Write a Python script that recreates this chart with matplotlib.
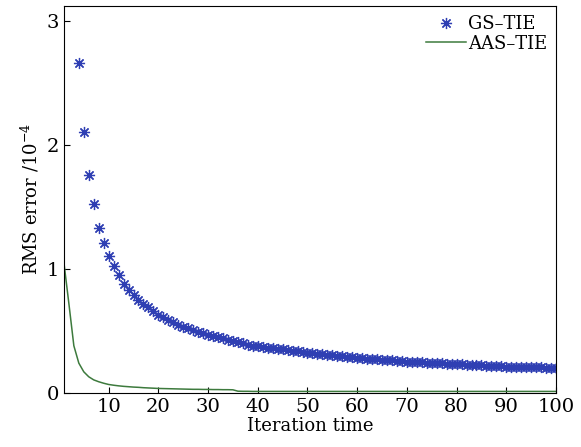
import matplotlib.pyplot as plt

# GS-TIE, iterations 4..100
gs_x = list(range(4, 101))
gs_rms = [2.66, 2.10, 1.76, 1.52, 1.33, 1.21, 1.10, 1.02, 0.95, 0.88,
          0.83, 0.79, 0.75, 0.72, 0.69, 0.66, 0.63, 0.61, 0.59, 0.57,
          0.55, 0.535, 0.52, 0.505, 0.49, 0.48, 0.47, 0.46, 0.45, 0.44,
          0.43, 0.42, 0.41, 0.40, 0.39, 0.38, 0.375, 0.37, 0.365, 0.36,
          0.355, 0.35, 0.345, 0.34, 0.335, 0.33, 0.325, 0.32, 0.316, 0.312,
          0.308, 0.304, 0.30, 0.296, 0.292, 0.288, 0.284, 0.28, 0.277, 0.274,
          0.271, 0.268, 0.265, 0.262, 0.259, 0.256, 0.253, 0.25, 0.248, 0.246,
          0.244, 0.242, 0.24, 0.238, 0.236, 0.234, 0.232, 0.23, 0.228, 0.226,
          0.224, 0.222, 0.22, 0.218, 0.216, 0.214, 0.212, 0.211, 0.21, 0.209,
          0.208, 0.207, 0.206, 0.205, 0.204, 0.203, 0.202]

# AAS-TIE, iterations 1..100
aas_x = list(range(1, 101))
aas_rms = [1.05, 0.72, 0.38, 0.24, 0.17, 0.13, 0.105, 0.09, 0.078, 0.068,
           0.062, 0.057, 0.053, 0.05, 0.047, 0.045, 0.042, 0.04, 0.038, 0.036,
           0.035, 0.034, 0.033, 0.032, 0.031, 0.03, 0.029, 0.029, 0.028, 0.028,
           0.027, 0.027, 0.026, 0.026, 0.025, 0.014, 0.013, 0.013, 0.012, 0.012,
           0.012, 0.012, 0.012, 0.012, 0.012, 0.012, 0.012, 0.012, 0.012, 0.012,
           0.012, 0.012, 0.012, 0.012, 0.012, 0.012, 0.012, 0.012, 0.012, 0.012,
           0.012, 0.012, 0.012, 0.012, 0.012, 0.012, 0.012, 0.012, 0.012, 0.012,
           0.012, 0.012, 0.012, 0.012, 0.012, 0.012, 0.012, 0.012, 0.012, 0.012,
           0.012, 0.012, 0.012, 0.012, 0.012, 0.012, 0.012, 0.012, 0.012, 0.012,
           0.012, 0.012, 0.012, 0.012, 0.012, 0.012, 0.012, 0.012, 0.012, 0.012]

x_ticks = [10, 20, 30, 40, 50, 60, 70, 80, 90, 100]
y_ticks = [0, 1, 2, 3]

plt.rcParams['font.family'] = ['DejaVu Serif']
plt.rcParams['mathtext.fontset'] = 'dejavuserif'

fig = plt.figure(figsize=(5.81, 4.47), dpi=100)
ax = fig.add_axes([0.110, 0.121, 0.847, 0.866])

ax.plot(gs_x, gs_rms, linestyle='none', marker=(8, 2, 0), markersize=8,
        markeredgewidth=0.9, color='#2f3fb3', label='GS\u2013TIE')
ax.plot(aas_x, aas_rms, color='#3d7a3d', linewidth=1.1, label='AAS\u2013TIE')

ax.set_xlim(1, 100)
ax.set_ylim(0, 3.12)
ax.set_xticks(x_ticks)
ax.set_yticks(y_ticks)
ax.tick_params(direction='in', length=4, labelsize=14, top=False, right=False)
ax.set_xlabel('Iteration time', fontsize=13, labelpad=1)
ax.set_ylabel('RMS error /10$^{-4}$', fontsize=13, labelpad=4)

leg = ax.legend(loc='upper right', frameon=False, fontsize=13,
                handlelength=2.2, handletextpad=0.1, borderaxespad=0.1,
                labelspacing=0.1, markerfirst=True)

fig.savefig('out.png', dpi=100)
